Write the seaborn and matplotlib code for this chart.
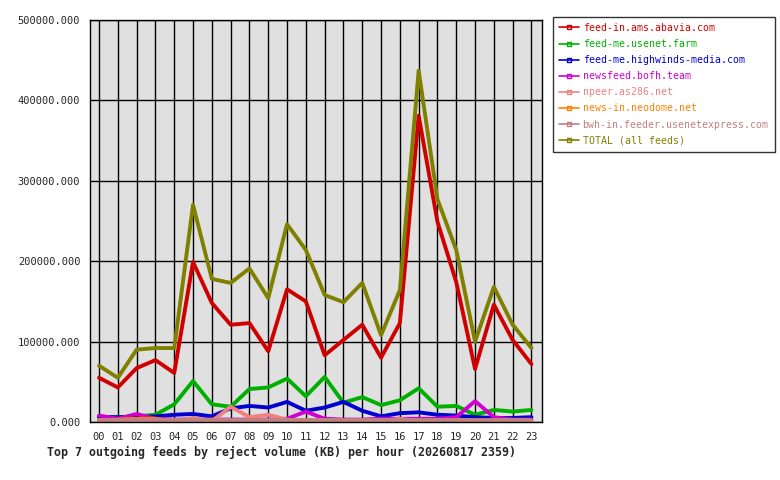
import matplotlib
matplotlib.use("Agg")
import matplotlib.pyplot as plt
from matplotlib.lines import Line2D
from matplotlib.ticker import FuncFormatter, MultipleLocator
import seaborn as sns
import pandas as pd

hours = [f"{h:02d}" for h in range(24)]

feeds = [
    "feed-in.ams.abavia.com",
    "feed-me.usenet.farm",
    "feed-me.highwinds-media.com",
    "newsfeed.bofh.team",
    "npeer.as286.net",
    "news-in.neodome.net",
    "bwh-in.feeder.usenetexpress.com",
    "TOTAL (all feeds)",
]
colors = ["#d00000", "#00b000", "#0000d0", "#d000d0",
          "#f08080", "#ff8000", "#c08080", "#808000"]

abavia = [55000, 43000, 67000, 77000, 61000, 199000, 148000, 121000, 123000, 88000, 165000, 150000,
          83000, 102000, 121000, 80000, 123000, 381000, 249000, 174000, 66000, 146000, 102000, 72000]
usenet_farm = [6000, 6000, 7000, 9000, 22000, 51000, 22000, 19000, 41000, 43000, 54000, 32000,
               56000, 24000, 31000, 21000, 27000, 42000, 19000, 20000, 9000, 15000, 13000, 15000]
highwinds = [6000, 6000, 6000, 7000, 9000, 10000, 7000, 17000, 20000, 18000, 25000, 14000,
             18000, 25000, 14000, 7000, 11000, 12000, 9000, 8000, 6000, 5000, 5000, 6000]
bofh = [8000, 4000, 10000, 4000, 3000, 3000, 3000, 3000, 3000, 3000, 4000, 13000,
        4000, 3000, 3000, 4000, 4000, 4000, 4000, 6000, 26000, 6000, 3000, 3000]
npeer = [1000, 1000, 1000, 1000, 1000, 5000, 1000, 19000, 6000, 9000, 3000, 1000,
         1000, 1000, 1000, 1000, 4000, 1000, 1000, 1000, 1000, 1000, 1000, 1000]
neodome = [2000, 3000, 4000, 4000, 1000, 1000, 3000, 1000, 1000, 1000, 1000, 1000,
           1000, 1000, 1000, 1000, 1000, 1000, 1000, 1000, 1000, 1000, 1000, 1000]
usenetexpress = [2000, 2000, 2000, 2000, 2000, 2000, 2000, 2000, 2000, 2000, 2000, 2000,
                 2000, 2000, 2000, 2000, 2000, 2000, 2000, 2000, 2000, 2000, 2000, 2000]
total = [70000, 55000, 90000, 92000, 92000, 270000, 178000, 173000, 191000, 154000, 246000, 214000,
         158000, 149000, 173000, 108000, 164000, 437000, 277000, 214000, 100000, 168000, 121000, 92000]

series = [abavia, usenet_farm, highwinds, bofh, npeer, neodome, usenetexpress, total]

rows = []
for name, vals in zip(feeds, series):
    for h, v in enumerate(vals):
        rows.append({"hour": h, "kb": v, "feed": name})
df = pd.DataFrame(rows)

sns.set_style("white")
plt.rcParams["font.family"] = ["DejaVu Sans Mono"]

fig = plt.figure(figsize=(7.8, 4.8), dpi=100)
ax = fig.add_axes([90 / 780, 1 - 422 / 480, 452 / 780, 402 / 480])
ax.set_facecolor("#e0e0e0")

sns.lineplot(data=df, x="hour", y="kb", hue="feed", hue_order=feeds,
             palette=colors, linewidth=2.8, ax=ax, legend=False)

ax.set_xlim(-0.48, 23.56)
ax.set_ylim(0, 500000)
ax.set_xticks(range(24))
ax.set_xticklabels(hours)
ax.yaxis.set_major_locator(MultipleLocator(100000))
ax.yaxis.set_major_formatter(FuncFormatter(lambda v, p: f"{v:.3f}"))
ax.grid(True, color="black", linewidth=1.0)
ax.set_axisbelow(True)
for s in ax.spines.values():
    s.set_color("black")
    s.set_linewidth(1.0)
ax.tick_params(axis="both", direction="out", length=3, width=1, color="black",
               labelsize=7.5, pad=4)
ax.set_xlabel("")
ax.set_ylabel("")

handles = [Line2D([0], [0], color=c, linewidth=1.2, marker="s", markersize=3,
                  fillstyle="none", markeredgewidth=1.0) for c in colors]
leg = fig.legend(handles, feeds, loc="upper left", bbox_to_anchor=(553 / 780, 1 - 17 / 480),
                 frameon=True, fancybox=False, edgecolor="black", fontsize=7.1,
                 labelcolor="linecolor", handlelength=2.0, handletextpad=0.4,
                 borderpad=0.6, labelspacing=0.62, borderaxespad=0)
leg.get_frame().set_linewidth(1.0)

fig.text(47 / 780, 1 - 452 / 480,
         "Top 7 outgoing feeds by reject volume (KB) per hour (20260817 2359)",
         fontsize=8.4, fontweight="bold", ha="left", va="center")

fig.savefig("out.png", dpi=100)
